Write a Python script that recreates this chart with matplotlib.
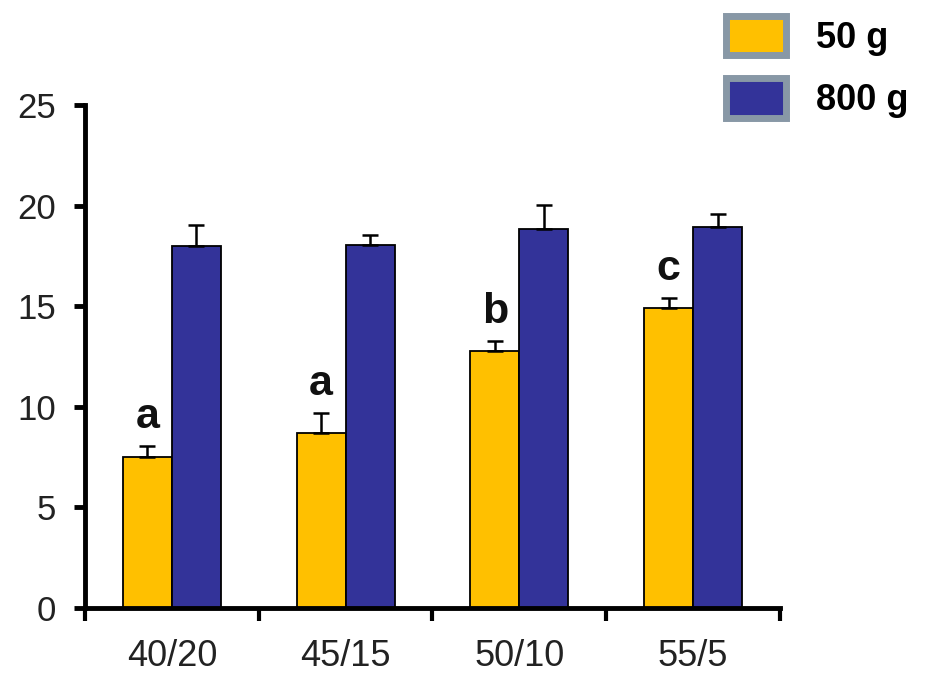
import matplotlib
matplotlib.use("Agg")
import matplotlib.pyplot as plt
import numpy as np
from matplotlib.patches import Patch

# ========== data ==========
categories = ["40/20", "45/15", "50/10", "55/5"]
series_names = ["50 g", "800 g"]
vals_50 = [7.5, 8.7, 12.75, 14.9]
err_50 = [0.55, 1.0, 0.5, 0.5]
vals_800 = [18.0, 18.05, 18.85, 18.95]
err_800 = [1.05, 0.5, 1.2, 0.65]
letters = ["a", "a", "b", "c"]

YELLOW = "#FFC000"
BLUE = "#333399"
LEG_EDGE = "#8898A6"

plt.rcParams['font.family'] = ['Liberation Sans', 'DejaVu Sans']

fig = plt.figure(figsize=(9.28, 6.77), dpi=100)
ax = fig.add_axes([85 / 928, 69 / 677, 695 / 928, 503 / 677])

x = np.arange(len(categories))
w = 0.282
err_kw = dict(ecolor='black', elinewidth=1.8, capsize=6, capthick=1.8)

ax.bar(x - w / 2, vals_50, w, color=YELLOW, edgecolor='black', linewidth=1.3,
       yerr=[np.zeros(len(err_50)), err_50], error_kw=err_kw, zorder=2)
ax.bar(x + w / 2, vals_800, w, color=BLUE, edgecolor='black', linewidth=1.3,
       yerr=[np.zeros(len(err_800)), err_800], error_kw=err_kw, zorder=2)

for xi, v, e, t in zip(x, vals_50, err_50, letters):
    ax.text(xi - w / 2, v + e + 0.9, t, ha='center', va='baseline',
            fontsize=31, fontweight='bold', color='#111111')

ax.set_xlim(-0.5, len(categories) - 0.5)
ax.set_ylim(0, 25)
ax.set_yticks([0, 5, 10, 15, 20, 25])

# ticks at group borders, labels at group centres
ax.set_xticks(np.arange(-0.5, len(categories)))
ax.set_xticklabels([])
ax.set_xticks(x, minor=True)
ax.set_xticklabels(categories, minor=True)
ax.tick_params(axis='x', which='major', direction='out', length=9, width=3)
ax.tick_params(axis='x', which='minor', length=0, pad=22, labelsize=26, labelcolor='#222222')
ax.tick_params(axis='y', direction='out', length=8, width=3.5, pad=13,
               labelsize=25, labelcolor='#222222')

for s in ['top', 'right']:
    ax.spines[s].set_visible(False)
for s in ['left', 'bottom']:
    ax.spines[s].set_linewidth(3.5)
ax.spines['left'].set_bounds(0, 25)

handles = [Patch(facecolor=YELLOW, edgecolor=LEG_EDGE, linewidth=5),
           Patch(facecolor=BLUE, edgecolor=LEG_EDGE, linewidth=5)]
fig.legend(handles, series_names, loc='upper left',
           bbox_to_anchor=(726 / 928, 1 - 16 / 677),
           frameon=False, prop={'weight': 'bold', 'size': 26},
           handlelength=1.65, handleheight=1.3, handletextpad=0.85, labelspacing=0.62,
           borderpad=0, borderaxespad=0)

plt.savefig("out.png", dpi=100, facecolor='white')
plt.close()
